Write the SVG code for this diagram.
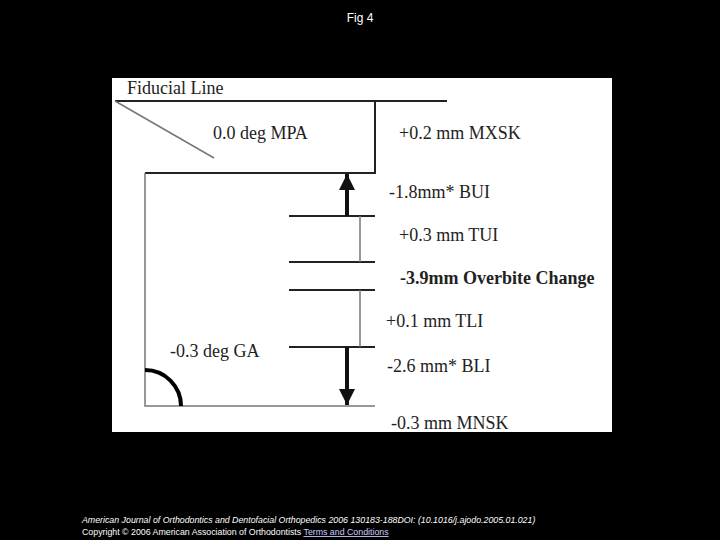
<svg xmlns="http://www.w3.org/2000/svg" width="720" height="540" viewBox="0 0 720 540">
<style>
.t{font-family:"Liberation Serif",serif;font-size:18px;fill:#222}
.l{stroke:#222;stroke-width:2;fill:none}
.g{stroke:#777;stroke-width:1.5;fill:none}
.f{font-family:"Liberation Sans",sans-serif;font-size:8.8px;fill:#fff}
</style>
<defs><marker id="a" markerWidth="4" markerHeight="4" refX="4" refY="2" orient="auto" markerUnits="strokeWidth"><path d="M0,0L4,2L0,4z" fill="#111"/></marker></defs>
<rect width="720" height="540" fill="#000"/>
<text x="360" y="22" text-anchor="middle" font-family="Liberation Sans,sans-serif" font-size="12" fill="#fff">Fig 4</text>
<rect x="112" y="78" width="500" height="354" fill="#fff"/>
<g id="shapes">
<path class="l" d="M115,101H447M145,173H375V101M289,216H375M289,262H375M289,290H375M289,347H375"/>
<path class="g" d="M115,101L214,158M145,173V406H375M360,216V262M360,290V347"/>
<path d="M145,370A36,36 0 0 1 181,406" stroke="#000" stroke-width="4" fill="none"/>
</g>
<g id="connectors">
<line x1="347" y1="216" x2="347" y2="174" stroke="#111" stroke-width="4" marker-end="url(#a)"/>
<line x1="347" y1="347" x2="347" y2="405" stroke="#111" stroke-width="4" marker-end="url(#a)"/>
</g>
<g id="labels">
<text class="t" x="127" y="94">Fiducial Line</text>
<text class="t" x="213" y="139">0.0 deg MPA</text>
<text class="t" x="399" y="139">+0.2 mm MXSK</text>
<text class="t" x="389" y="198">-1.8mm* BUI</text>
<text class="t" x="399" y="241">+0.3 mm TUI</text>
<text class="t" x="400" y="284" font-weight="bold" font-size="17.5">-3.9mm Overbite Change</text>
<text class="t" x="386" y="327">+0.1 mm  TLI</text>
<text class="t" x="170" y="357">-0.3 deg GA</text>
<text class="t" x="387" y="372">-2.6 mm* BLI</text>
<text class="t" x="391" y="429">-0.3 mm  MNSK</text>
</g>
<text class="f" x="82" y="523" font-style="italic">American Journal of Orthodontics and Dentofacial Orthopedics 2006 130183-188DOI: (10.1016/j.ajodo.2005.01.021)</text>
<text class="f" x="82" y="535">Copyright © 2006 American Association of Orthodontists <tspan fill="#ccf" text-decoration="underline">Terms and Conditions</tspan></text>
</svg>
